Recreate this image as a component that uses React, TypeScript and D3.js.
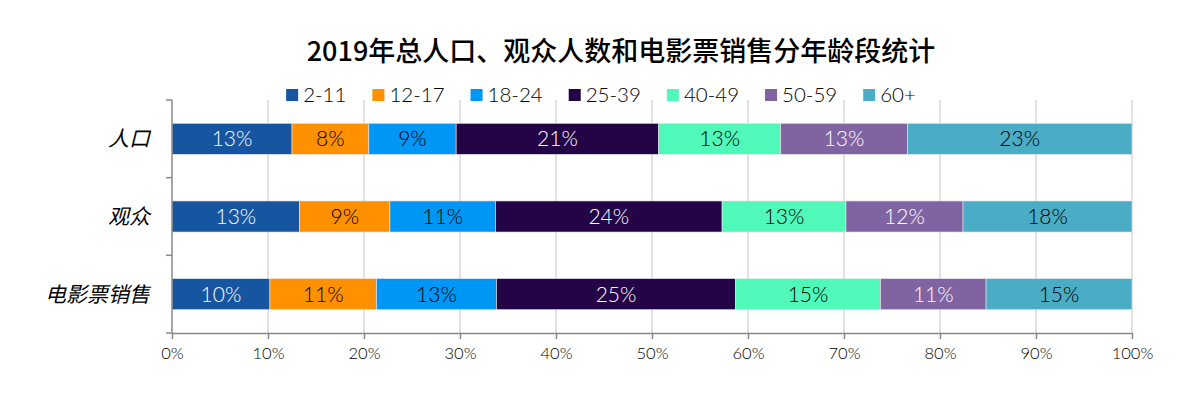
import React, { useEffect, useRef } from "react";
import * as d3 from "d3";

const title = "2019年总人口、观众人数和电影票销售分年龄段统计";
const categories = ["人口", "观众", "电影票销售"];
const ageGroups = ["2-11", "12-17", "18-24", "25-39", "40-49", "50-59", "60+"];
const colors = ["#1656A1", "#FF9100", "#0096F5", "#230447", "#50F8B9", "#8064A2", "#4BACC6"];
const lightText = [true, false, false, true, false, true, false];

// shares in %, one array per category, in ageGroups order
const population = [12.5, 8.0, 9.1, 21.1, 12.7, 13.2, 23.4];
const audience = [13.3, 9.4, 11.0, 23.6, 12.9, 12.2, 17.6];
const ticketSales = [10.2, 11.1, 12.5, 24.9, 15.1, 11.0, 15.2];
const xTicks = [0, 10, 20, 30, 40, 50, 60, 70, 80, 90, 100];

const seriesByCat = [population, audience, ticketSales];

const W = 1201;
const H = 397;
const margin = { top: 100, right: 69, bottom: 64, left: 172 };

export default function App() {
  const ref = useRef<SVGSVGElement>(null);

  useEffect(() => {
    const svg = d3.select(ref.current);
    svg.selectAll("*").remove();

    const x = d3.scaleLinear().domain([0, 100]).range([margin.left, W - margin.right]);
    const y = d3.scaleBand().domain(categories).range([margin.top, H - margin.bottom]).padding(0);
    const barH = y.bandwidth() * 0.4;

    const numFont = "Lato, 'Open Sans', sans-serif";

    // title
    svg.append("text")
      .attr("x", 621).attr("y", 61)
      .attr("text-anchor", "middle")
      .attr("font-family", "'Noto Sans CJK SC', sans-serif")
      .attr("font-weight", 500)
      .attr("font-size", 27)
      .attr("fill", "#000")
      .text(title);

    // gridlines
    svg.append("g").selectAll("line").data(xTicks.slice(1)).join("line")
      .attr("x1", d => x(d)).attr("x2", d => x(d))
      .attr("y1", margin.top).attr("y2", H - margin.bottom)
      .attr("stroke", "#d9d9d9").attr("stroke-width", 1.5);

    // stacked bars
    const rows = categories.map((c, i) => {
      const vals = seriesByCat[i];
      const cum = d3.cumsum(vals);
      return vals.map((v, j) => ({ cat: c, j, v, x0: cum[j] - v, x1: cum[j] }));
    });

    const g = svg.append("g");
    rows.forEach(row => {
      const cy = (y(row[0].cat) as number) + y.bandwidth() / 2;
      g.selectAll(null).data(row).join("rect")
        .attr("x", d => x(d.x0)).attr("width", d => x(d.x1) - x(d.x0))
        .attr("y", cy - barH / 2).attr("height", barH)
        .attr("fill", d => colors[d.j])
        .attr("stroke", "#e8e8e8").attr("stroke-width", 0.6);
      g.selectAll(null).data(row).join("text")
        .attr("x", d => (x(d.x0) + x(d.x1)) / 2).attr("y", cy)
        .attr("dy", "0.36em")
        .attr("text-anchor", "middle")
        .attr("font-family", numFont)
        .attr("font-weight", 300)
        .attr("font-size", 21)
        .attr("fill", d => (lightText[d.j] ? "#fff" : "#000"))
        .text(d => Math.round(d.v) + "%");
    });

    // y axis
    const yAxis = svg.append("g");
    yAxis.append("line")
      .attr("x1", margin.left).attr("x2", margin.left)
      .attr("y1", margin.top).attr("y2", H - margin.bottom)
      .attr("stroke", "#888").attr("stroke-width", 1.5);
    const yEdges = [...categories.map(c => y(c) as number), H - margin.bottom];
    yAxis.selectAll(null).data(yEdges).join("line")
      .attr("x1", margin.left - 6).attr("x2", margin.left)
      .attr("y1", d => d).attr("y2", d => d)
      .attr("stroke", "#888").attr("stroke-width", 1.5);
    yAxis.selectAll(null).data(categories).join("text")
      .attr("x", 150).attr("y", d => (y(d) as number) + y.bandwidth() / 2)
      .attr("dy", "0.36em")
      .attr("text-anchor", "end")
      .attr("font-family", "'Noto Sans CJK SC', sans-serif")
      .attr("font-style", "italic")
      .attr("font-size", 21)
      .attr("fill", "#000")
      .text(d => d);

    // x axis
    const xAxis = svg.append("g")
      .attr("transform", `translate(0,${H - margin.bottom})`)
      .call(d3.axisBottom(x).tickValues(xTicks).tickSize(6).tickSizeOuter(0).tickFormat(d => d + "%"));
    xAxis.select(".domain").attr("stroke", "#888").attr("stroke-width", 1.5);
    xAxis.selectAll(".tick line").attr("stroke", "#888").attr("stroke-width", 1.5);
    xAxis.selectAll(".tick text")
      .attr("font-family", numFont).attr("font-weight", 300)
      .attr("font-size", 16.5).attr("fill", "#000")
      .attr("y", 14);

    // legend
    const legend = svg.append("g");
    const items = legend.selectAll("g").data(ageGroups).join("g");
    items.append("rect")
      .attr("width", 12).attr("height", 12).attr("y", 89)
      .attr("fill", (d, i) => colors[i]);
    items.append("text")
      .attr("x", 17).attr("y", 95).attr("dy", "0.36em")
      .attr("font-family", numFont).attr("font-weight", 300)
      .attr("font-size", 20.5).attr("fill", "#000")
      .text(d => d);
    let cx = 0;
    const offsets: number[] = [];
    items.each(function () {
      offsets.push(cx);
      const t = (this as SVGGElement).querySelector("text") as SVGTextElement;
      cx += 17 + t.getComputedTextLength() + 26;
    });
    const total = cx - 26;
    const start = 601 - total / 2;
    items.attr("transform", (d, i) => `translate(${start + offsets[i]},0)`);
  }, []);

  return (
    <svg
      ref={ref}
      width={W}
      height={H}
      style={{ position: "absolute", left: 0, top: 0, background: "#fff" }}
    />
  );
}
